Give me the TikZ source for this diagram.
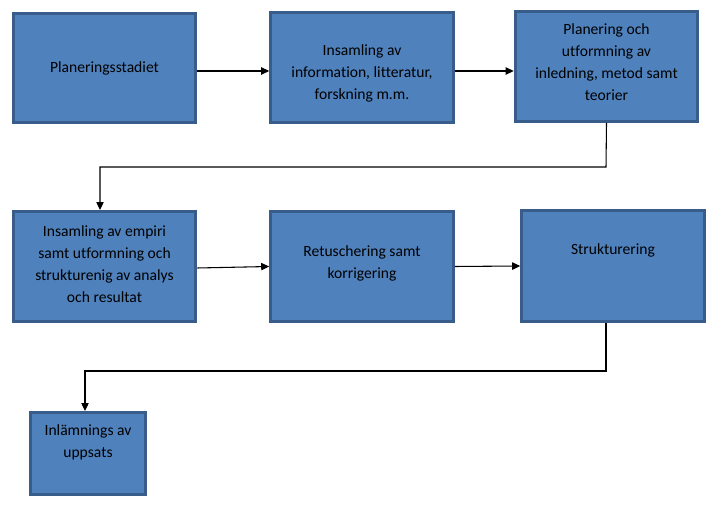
\documentclass[tikz,border=0pt]{standalone}
\usepackage{fontspec}
\setmainfont{Carlito}[Ligatures={NoCommon}]
\usepackage{xcolor}
\usetikzlibrary{arrows.meta,positioning,calc}
\definecolor{rutablue}{HTML}{4F81BD}
\definecolor{rutaedge}{HTML}{385D8A}

\begin{document}
\begin{tikzpicture}[x=0.75pt,y=0.75pt,     ruta/.style={rectangle,fill=rutablue,draw=rutaedge,line width=2.2pt,minimum width=137pt,align=center,inner xsep=2pt,inner ysep=0pt,font=\fontsize{11.7pt}{16.5pt}\selectfont},     liten/.style={ruta,minimum width=86pt},     pil/.style={-{Triangle[length=6pt,width=5.5pt]},line width=0.8pt}  ]
    \useasboundingbox (0,0) rectangle (716,-505);
    \node[ruta,text height=44.6pt,text depth=37.1pt] (plan) at (104.5,-68) {Planeringsstadiet};
    \node[ruta,text height=65.6pt,text depth=16.9pt] (insamling) at (362,-67.5) {Insamling av\\information, litteratur,\\forskning m.m.};
    \node[ruta,text height=66.4pt,text depth=16.1pt] (utform) at (606.5,-66.5) {Planering och\\utformning av\\inledning, metod samt\\teorier};
    \node[ruta,text height=67.9pt,text depth=14.6pt] (empiri) at (104.5,-266.5) {Insamling av empiri\\samt utformning och\\strukturenig av analys\\och resultat};
    \node[ruta,text height=49.9pt,text depth=32.6pt] (retusch) at (362,-266.5) {Retuschering samt\\korrigering};
    \node[ruta,text height=33.4pt,text depth=49.9pt] (struktur) at (613,-266) {Strukturering};
    \node[liten,text height=33.4pt,text depth=28.1pt] (inlamning) at (88,-453.5) {Inlämnings av\\uppsats};
    \coordinate (knut1) at (606,-167);
    \coordinate (knut2) at (606,-371);
    \draw[pil] ($(plan.east)+(0,-3)$) -- ($(insamling.west)+(0,-3.5)$);
    \draw[pil] ($(insamling.east)+(0,-3.5)$) -- ($(utform.west)+(0,-4.5)$);
    \draw[pil] (utform.south) -- (knut1) -| ($(empiri.north)+(-4.5,0)$);
    \draw[pil] ($(empiri.east)+(0,-1.5)$) -- (retusch.west);
    \draw[pil] (retusch.east) -- (struktur.west);
    \draw[pil] (knut2 |- struktur.south) -- (knut2) -| ($(inlamning.north)+(-3,0)$);
\end{tikzpicture}
\end{document}
